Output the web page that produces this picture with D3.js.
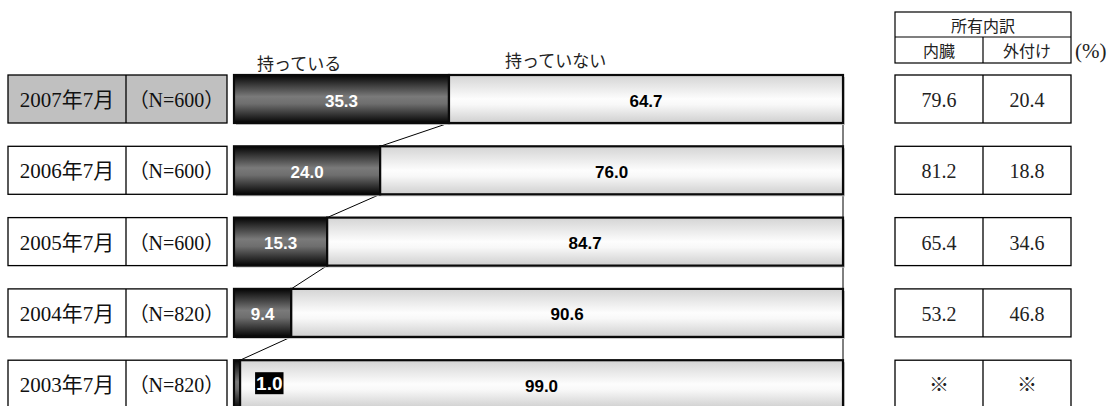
<!DOCTYPE html>
<html>
<head>
<meta charset="utf-8">
<script src="https://cdn.jsdelivr.net/npm/d3@7/dist/d3.min.js"></script>
<style>
  html, body { margin: 0; padding: 0; background: #fff; }
  svg { display: block; }
</style>
</head>
<body>
<svg id="chart" width="1113" height="406"></svg>
<script>
// Survey periods and sample sizes
const periods = ["2007年7月", "2006年7月", "2005年7月", "2004年7月", "2003年7月"];
const samples = ["（N=600）", "（N=600）", "（N=600）", "（N=820）", "（N=820）"];

// Share of respondents (%)
const seriesNames = ["持っている", "持っていない"];
const own = [35.3, 24.0, 15.3, 9.4, 1.0];
const notOwn = [64.7, 76.0, 84.7, 90.6, 99.0];

// Breakdown of owners (%)
const breakdownTitle = "所有内訳";
const breakdownCols = ["内臓", "外付け"];
const internal = ["79.6", "81.2", "65.4", "53.2", "※"];
const external = ["20.4", "18.8", "34.6", "46.8", "※"];
const unitLabel = "(%)";

const svg = d3.select("#chart");
const serif = "'Liberation Serif', 'DejaVu Serif', 'Noto Sans CJK JP', serif";
const sansCJK = "'Noto Sans CJK JP', sans-serif";
const barFont = "'Liberation Sans', Arial, sans-serif";

const x = d3.scaleLinear().domain([0, 100]).range([234, 843]);
const rowStep = 71.3, rowH = 48;
const y = d3.scaleBand()
  .domain(periods)
  .range([75, 75 + 4 * rowStep + rowH])
  .paddingInner((rowStep - rowH) / rowStep)
  .paddingOuter(0);

// Gradients
const defs = svg.append("defs");
const gDark = defs.append("linearGradient").attr("id", "gDark")
  .attr("x1", 0).attr("y1", 0).attr("x2", 0).attr("y2", 1);
[[0, "#050505"], [0.45, "#7a7a7a"], [0.6, "#6e6e6e"], [1, "#050505"]]
  .forEach(([o, c]) => gDark.append("stop").attr("offset", o).attr("stop-color", c));
const gLight = defs.append("linearGradient").attr("id", "gLight")
  .attr("x1", 0).attr("y1", 0).attr("x2", 0).attr("y2", 1);
[[0, "#d4d4d4"], [0.5, "#fdfdfd"], [0.62, "#f8f8f8"], [1, "#cfcfcf"]]
  .forEach(([o, c]) => gLight.append("stop").attr("offset", o).attr("stop-color", c));

const rows = periods.map((p, i) => ({
  period: p, n: samples[i], own: own[i], notOwn: notOwn[i],
  internal: internal[i], external: external[i], idx: i
}));

// Left label table
const leftX0 = 8, leftDiv = 126, leftX1 = 227;
const lt = svg.append("g");
rows.forEach(d => {
  const top = y(d.period);
  lt.append("rect").attr("x", leftX0).attr("y", top)
    .attr("width", leftX1 - leftX0).attr("height", rowH)
    .attr("fill", d.idx === 0 ? "#c0c0c0" : "#fff")
    .attr("stroke", "#000").attr("stroke-width", 1.3);
  lt.append("line").attr("x1", leftDiv).attr("x2", leftDiv)
    .attr("y1", top).attr("y2", top + rowH)
    .attr("stroke", "#000").attr("stroke-width", 1.3);
  lt.append("text").attr("x", (leftX0 + leftDiv) / 2).attr("y", top + rowH / 2 + 1)
    .attr("text-anchor", "middle").attr("dominant-baseline", "central")
    .attr("font-family", serif).attr("font-size", 21).attr("fill", "#111")
    .text(d.period);
  lt.append("text").attr("x", (leftDiv + leftX1) / 2).attr("y", top + rowH / 2 + 1)
    .attr("text-anchor", "middle").attr("dominant-baseline", "central")
    .attr("font-family", serif).attr("font-size", 20).attr("fill", "#111")
    .text(d.n);
});

// Series legend labels above the first bar
svg.append("text").attr("x", 257).attr("y", 70)
  .attr("font-family", sansCJK).attr("font-size", 17).attr("fill", "#222")
  .text(seriesNames[0]);
svg.append("text").attr("x", 505).attr("y", 67)
  .attr("font-family", sansCJK).attr("font-size", 17).attr("fill", "#222")
  .text(seriesNames[1]);

// Connector lines between rows
const conn = svg.append("g");
for (let i = 0; i < rows.length - 1; i++) {
  const a = rows[i], b = rows[i + 1];
  conn.append("line")
    .attr("x1", x(a.own)).attr("y1", y(a.period) + rowH)
    .attr("x2", x(b.own)).attr("y2", y(b.period))
    .attr("stroke", "#000").attr("stroke-width", 1);
  conn.append("line")
    .attr("x1", x(100)).attr("y1", y(a.period) + rowH)
    .attr("x2", x(100)).attr("y2", y(b.period))
    .attr("stroke", "#000").attr("stroke-width", 1);
}

// Stacked bars
const bars = svg.append("g");
rows.forEach(d => {
  const top = y(d.period);
  // soft shadow
  bars.append("rect").attr("x", x(0) + 2).attr("y", top + 2)
    .attr("width", x(100) - x(0)).attr("height", rowH)
    .attr("fill", "#c8c8c8");
  const segs = [
    { v0: 0, v1: d.own, fill: "url(#gDark)" },
    { v0: d.own, v1: d.own + d.notOwn, fill: "url(#gLight)" }
  ];
  segs.forEach(s => {
    bars.append("rect")
      .attr("x", x(s.v0)).attr("y", top)
      .attr("width", x(s.v1) - x(s.v0)).attr("height", rowH)
      .attr("fill", s.fill)
      .attr("stroke", "#0a0a0a").attr("stroke-width", 2.2);
  });
  const cy = top + rowH / 2 + 2;
  // owned label
  const ownW = x(d.own) - x(0);
  if (ownW > 30) {
    bars.append("text").attr("x", (x(0) + x(d.own)) / 2).attr("y", cy)
      .attr("text-anchor", "middle").attr("dominant-baseline", "central")
      .attr("font-family", barFont).attr("font-weight", "bold").attr("font-size", 17)
      .attr("fill", "#fff").text(d.own.toFixed(1));
  } else {
    const g = bars.append("g");
    const t = g.append("text").attr("x", x(d.own) + 16).attr("y", cy - 3)
      .attr("text-anchor", "start").attr("dominant-baseline", "central")
      .attr("font-family", barFont).attr("font-weight", "bold").attr("font-size", 19)
      .attr("fill", "#fff").text(d.own.toFixed(1));
    const bb = t.node().getBBox();
    g.insert("rect", "text").attr("x", bb.x - 1).attr("y", cy - 3 - 11)
      .attr("width", bb.width + 2).attr("height", 22).attr("fill", "#000");
  }
  bars.append("text").attr("x", (x(d.own) + x(d.own + d.notOwn)) / 2).attr("y", cy)
    .attr("text-anchor", "middle").attr("dominant-baseline", "central")
    .attr("font-family", barFont).attr("font-weight", "bold").attr("font-size", 17)
    .attr("fill", "#000").text(d.notOwn.toFixed(1));
});

// Right breakdown table
const rX0 = 895, rDiv = 983, rX1 = 1071;
const rt = svg.append("g");
rt.append("rect").attr("x", rX0).attr("y", 12).attr("width", rX1 - rX0).attr("height", 51)
  .attr("fill", "#fff").attr("stroke", "#000").attr("stroke-width", 1.2);
rt.append("line").attr("x1", rX0).attr("x2", rX1).attr("y1", 37).attr("y2", 37)
  .attr("stroke", "#000").attr("stroke-width", 1.2);
rt.append("line").attr("x1", rDiv).attr("x2", rDiv).attr("y1", 37).attr("y2", 63)
  .attr("stroke", "#000").attr("stroke-width", 1.2);
rt.append("text").attr("x", (rX0 + rX1) / 2).attr("y", 25)
  .attr("text-anchor", "middle").attr("dominant-baseline", "central")
  .attr("font-family", sansCJK).attr("font-size", 16).attr("fill", "#222")
  .text(breakdownTitle);
[(rX0 + rDiv) / 2, (rDiv + rX1) / 2].forEach((cx, k) => {
  rt.append("text").attr("x", cx).attr("y", 50)
    .attr("text-anchor", "middle").attr("dominant-baseline", "central")
    .attr("font-family", sansCJK).attr("font-size", 16).attr("fill", "#222")
    .text(breakdownCols[k]);
});
rt.append("text").attr("x", 1075).attr("y", 51)
  .attr("text-anchor", "start").attr("dominant-baseline", "central")
  .attr("font-family", serif).attr("font-size", 21).attr("fill", "#222")
  .text(unitLabel);

rows.forEach(d => {
  const top = y(d.period);
  rt.append("rect").attr("x", rX0).attr("y", top).attr("width", rX1 - rX0).attr("height", rowH)
    .attr("fill", "#fff").attr("stroke", "#000").attr("stroke-width", 1.3);
  rt.append("line").attr("x1", rDiv).attr("x2", rDiv).attr("y1", top).attr("y2", top + rowH)
    .attr("stroke", "#000").attr("stroke-width", 1.3);
  [[d.internal, (rX0 + rDiv) / 2], [d.external, (rDiv + rX1) / 2]].forEach(([v, cx]) => {
    rt.append("text").attr("x", cx).attr("y", top + rowH / 2 + 1)
      .attr("text-anchor", "middle").attr("dominant-baseline", "central")
      .attr("font-family", serif).attr("font-size", 20).attr("fill", "#222")
      .text(v);
  });
});
</script>
</body>
</html>
